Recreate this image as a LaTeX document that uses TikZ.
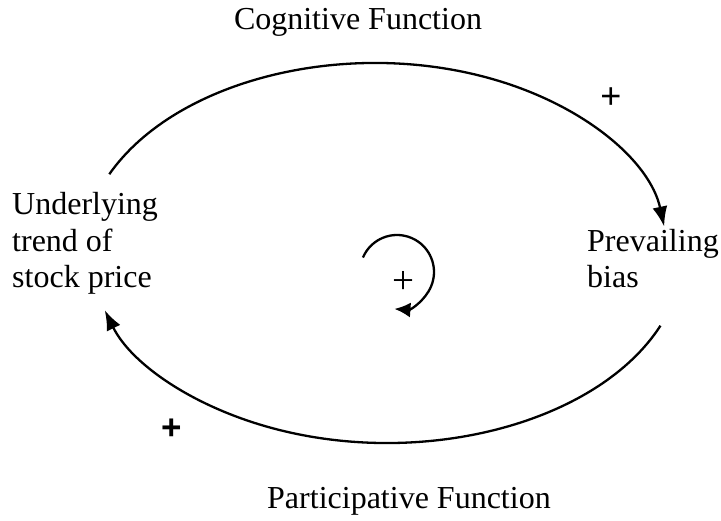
\documentclass[tikz,border=0pt]{standalone}
\usepackage{fontspec}
\setmainfont{Liberation Serif}
\newfontfamily\arialf{Liberation Sans}
\usetikzlibrary{arrows.meta}
\begin{document}
\begin{tikzpicture}[x=1pt,y=1pt,
  lbl/.style={font=\fontsize{32}{36.5}\selectfont, inner sep=0pt},
  plus/.style={inner sep=0pt},
  conn/.style={line width=2.3pt, -{Latex[length=20pt,width=15pt]}}]
\useasboundingbox (0,0) rectangle (721,521);
\node[lbl, anchor=base] (cog) at (358,491) {Cognitive Function};
\node[lbl, anchor=base west] (par) at (267,12) {Participative Function};
\node[lbl, align=left, anchor=base west] (und) at (12,233) {Underlying\\trend of\\stock price};
\node[lbl, align=left, anchor=base west] (pre) at (587,233) {Prevailing\\bias};
\node[plus, font=\arialf\fontsize{36}{40}\selectfont] (p1) at (611,423) {+};
\node[plus, font=\fontsize{39}{42}\selectfont] (p2) at (403,239) {+};
\node[plus, font=\arialf\bfseries\fontsize{35}{38}\selectfont] (p3) at (172,92) {+};
\coordinate (ct) at (375,268);
\coordinate (cb) at (387,268);
\draw[conn] (ct) ++(155.5:292 and 190) arc[start angle=155.5, end angle=8, x radius=292, y radius=190];
\draw[conn] (cb) ++(-22.5:296 and 190) arc[start angle=-22.5, end angle=-162.5, x radius=296, y radius=190];
\coordinate (sc) at (397,249);
\draw[conn, -{Latex[length=16pt,width=15pt]}] (sc) ++(157:37) arc[start angle=157, end angle=-94, radius=37];
\end{tikzpicture}
\end{document}
